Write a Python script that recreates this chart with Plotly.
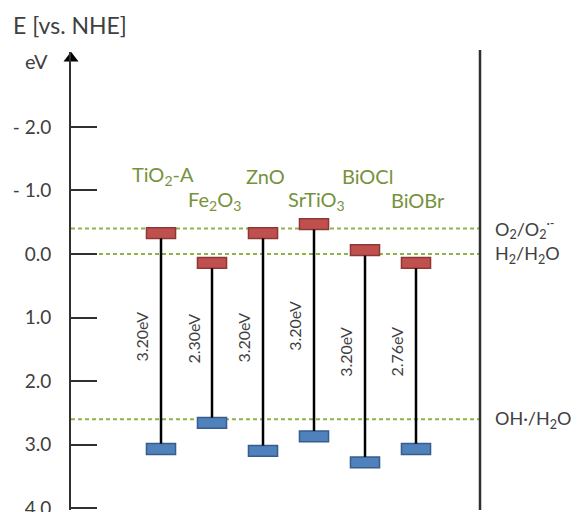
import plotly.graph_objects as go

# ---- data ----
materials = ["TiO<sub>2</sub>-A", "Fe<sub>2</sub>O<sub>3</sub>", "ZnO",
             "SrTiO<sub>3</sub>", "BiOCl", "BiOBr"]
cb_edges = [-0.33, 0.14, -0.33, -0.47, -0.06, 0.14]   # conduction band (eV vs NHE)
vb_edges = [3.07, 2.66, 3.10, 2.87, 3.28, 3.07]       # valence band
gap_labels = ["3.20eV", "2.30eV", "3.20eV", "3.20eV", "3.20eV", "2.76eV"]
redox_names = ["O<sub>2</sub>/O<sub>2</sub><sup>·-</sup>", "H<sub>2</sub>/H<sub>2</sub>O",
               "OH·/H<sub>2</sub>O"]
redox_values = [-0.40, 0.0, 2.60]
tick_vals = [-2, -1, 0, 1, 2, 3, 4]
tick_text = ["- 2.0", "- 1.0", "0.0", "1.0", "2.0", "3.0", "4.0"]

FONT = "Lato"
GREEN = "#76923c"
GREY = "#404040"

xpos = list(range(1, len(materials) + 1))
X_RANGE = [-0.765, 7.255]
Y_RANGE = [4.03, -3.18]
bar_h = 0.17

W, H = 573, 504            # page adds 8px body margin
M = dict(l=63, r=101, t=44, b=2)
H_PLOT = H - M["t"] - M["b"]

fig = go.Figure()

# connecting lines (CB -> VB)
lx, ly = [], []
for x, c, v in zip(xpos, cb_edges, vb_edges):
    lx += [x, x, None]
    ly += [c + bar_h / 2, v - bar_h / 2, None]
fig.add_trace(go.Scatter(x=lx, y=ly, mode="lines",
                         line=dict(color="black", width=2.5),
                         hoverinfo="skip", showlegend=False))

# CB bars
fig.add_trace(go.Bar(x=xpos, y=[bar_h] * len(xpos),
                     base=[c - bar_h / 2 for c in cb_edges], width=0.57,
                     marker=dict(color="#c0504d", line=dict(color="#8c3836", width=1.5)),
                     showlegend=False, hoverinfo="skip"))
# VB bars
fig.add_trace(go.Bar(x=xpos, y=[bar_h] * len(xpos),
                     base=[v - bar_h / 2 for v in vb_edges], width=0.57,
                     marker=dict(color="#4f81bd", line=dict(color="#385d8a", width=1.5)),
                     showlegend=False, hoverinfo="skip"))

# arrow head on y axis
fig.add_trace(go.Scatter(x=[X_RANGE[0]], y=[Y_RANGE[1] + 0.1], mode="markers",
                         marker=dict(symbol="triangle-up", size=13, color="black"),
                         cliponaxis=False, hoverinfo="skip", showlegend=False))

shapes = []
for rv in redox_values:
    shapes.append(dict(type="line", xref="paper", x0=0, x1=1, yref="y", y0=rv, y1=rv,
                       line=dict(color="#8fb34a", width=2, dash="4px,3px"), layer="below"))
shapes.append(dict(type="line", xref="paper", x0=1, x1=1, yref="paper",
                   y0=0, y1=1 + 2 / H_PLOT,
                   line=dict(color="#303030", width=2.5)))

annotations = []
for i, (x, name) in enumerate(zip(xpos, materials)):
    annotations.append(dict(x=x, y=-1.23 if i % 2 == 0 else -0.85, xref="x", yref="y",
                            text=name, showarrow=False, xshift=2,
                            font=dict(family=FONT, size=20, color=GREEN)))
for x, c, v, g in zip(xpos, cb_edges, vb_edges, gap_labels):
    annotations.append(dict(x=x, y=(c + v) / 2 - 0.07, xref="x", yref="y", text=g,
                            showarrow=False, textangle=-90, xshift=-19,
                            font=dict(family=FONT, size=16, color=GREY)))
for name, rv in zip(redox_names, redox_values):
    annotations.append(dict(x=1, y=rv, xref="paper", yref="y", text=name,
                            showarrow=False, xanchor="left", xshift=13,
                            font=dict(family=FONT, size=18, color=GREY)))
annotations.append(dict(x=0, y=1 + (M["t"] - 17) / H_PLOT, xref="paper", yref="paper",
                        text="E [vs. NHE]", showarrow=False, xanchor="left",
                        yanchor="middle", xshift=-60,
                        font=dict(family=FONT, size=23, color=GREY)))
annotations.append(dict(x=0, y=1 + (M["t"] - 53) / H_PLOT, xref="paper", yref="paper",
                        text="eV", showarrow=False, xanchor="right", yanchor="middle",
                        xshift=-21,
                        font=dict(family=FONT, size=20, color=GREY)))

fig.update_layout(
    width=W, height=H,
    margin=dict(M, autoexpand=False),
    paper_bgcolor="white", plot_bgcolor="white",
    barmode="overlay",
    shapes=shapes, annotations=annotations,
    xaxis=dict(range=X_RANGE, visible=False, fixedrange=True, automargin=False),
    yaxis=dict(range=Y_RANGE, showgrid=False, zeroline=False, automargin=False,
               showline=True, linecolor="#303030", linewidth=2,
               ticks="inside", ticklen=26, tickwidth=2, tickcolor="#303030",
               tickvals=tick_vals, ticktext=tick_text, ticklabelstandoff=14,
               ticklabeloverflow="allow",
               tickfont=dict(family=FONT, size=19, color=GREY)),
    font=dict(family=FONT),
)

fig.write_html("out.html")
